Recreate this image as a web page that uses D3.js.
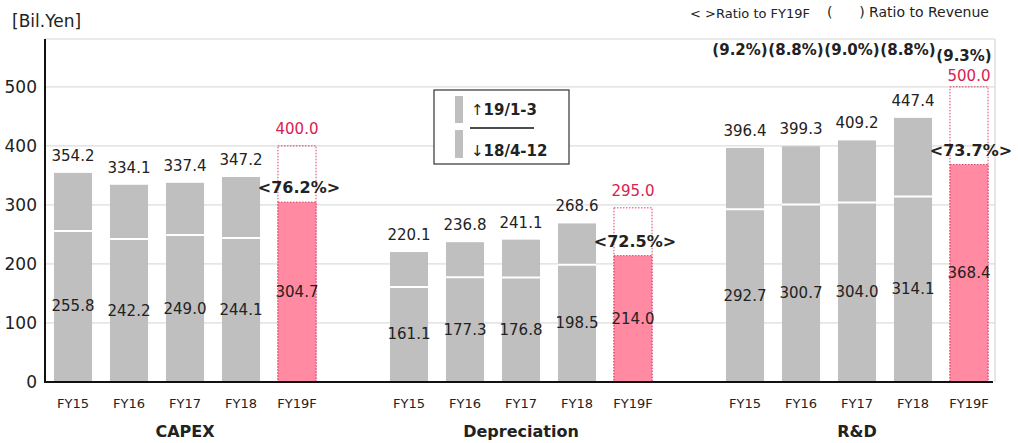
<!DOCTYPE html>
<html>
<head>
<meta charset="utf-8">
<script src="https://cdn.jsdelivr.net/npm/d3@7"></script>
<style>
  body { margin: 0; background: #fff; }
  svg text { font-family: "DejaVu Sans", Verdana, sans-serif; fill: #222; }
</style>
</head>
<body>
<div id="chart"></div>
<script>
// data
var groups = ["CAPEX", "Depreciation", "R&D"];
var years = ["FY15", "FY16", "FY17", "FY18", "FY19F"];
// full-year results (FY19F = plan)
var capexTotal = [354.2, 334.1, 337.4, 347.2, 400.0];
var deprTotal  = [220.1, 236.8, 241.1, 268.6, 295.0];
var rdTotal    = [396.4, 399.3, 409.2, 447.4, 500.0];
// Apr-Dec cumulative
var capexAprDec = [255.8, 242.2, 249.0, 244.1, 304.7];
var deprAprDec  = [161.1, 177.3, 176.8, 198.5, 214.0];
var rdAprDec    = [292.7, 300.7, 304.0, 314.1, 368.4];
var progressToPlan = ["<76.2%>", "<72.5%>", "<73.7%>"];
var rdRatioToRevenue = ["(9.2%)", "(8.8%)", "(9.0%)", "(8.8%)", "(9.3%)"];
var yTicks = [0, 100, 200, 300, 400, 500];

var totals = [capexTotal, deprTotal, rdTotal];
var aprDec = [capexAprDec, deprAprDec, rdAprDec];

// rows
var rows = [];
groups.forEach(function(g, gi) {
  years.forEach(function(y, yi) {
    rows.push({group: g, gi: gi, year: y, yi: yi, key: g + "|" + y,
               total: totals[gi][yi], lower: aprDec[gi][yi], forecast: yi === years.length - 1});
  });
});

// band domain with one empty slot between groups
var slots = [];
groups.forEach(function(g, gi) {
  if (gi > 0) slots.push("gap" + gi);
  years.forEach(function(y) { slots.push(g + "|" + y); });
});

var W = 1018, H = 443;
var margin = {top: 39, right: 21, bottom: 61, left: 45};

var pink = "#ff8aa1", pinkLine = "#d8406a", red = "#d9214f", gray = "#bfbfbf";

var svg = d3.select("#chart").append("svg").attr("width", W).attr("height", H);

var x = d3.scaleBand().domain(slots).range([margin.left, W - margin.right])
  .paddingInner(0.32).paddingOuter(0.16);
var y = d3.scaleLinear().domain([0, 581]).range([H - margin.bottom, margin.top]);

// grid + frame
svg.append("g").selectAll("line.grid")
  .data(yTicks.filter(function(d) { return d > 0; }))
  .enter().append("line")
    .attr("x1", margin.left).attr("x2", W - margin.right - 2)
    .attr("y1", function(d) { return y(d); }).attr("y2", function(d) { return y(d); })
    .attr("stroke", "#dcdcdc").attr("stroke-width", 1.2);

svg.append("line").attr("x1", margin.left).attr("x2", W - margin.right - 2)
  .attr("y1", margin.top).attr("y2", margin.top).attr("stroke", "#d6d6d6").attr("stroke-width", 1.2);
svg.append("line").attr("x1", W - margin.right - 2).attr("x2", W - margin.right - 2)
  .attr("y1", margin.top).attr("y2", y(0)).attr("stroke", "#d6d6d6").attr("stroke-width", 1.2);

// y axis
var yAxis = svg.append("g").attr("transform", "translate(" + margin.left + ",0)")
  .call(d3.axisLeft(y).tickValues(yTicks).tickSize(0).tickPadding(8));
yAxis.select(".domain").remove();
yAxis.selectAll("text").style("font-size", "17px").attr("fill", "#222")
  .style("font-family", "'DejaVu Sans', sans-serif");

svg.append("text").attr("x", 12).attr("y", 27).style("font-size", "17px").text("[Bil.Yen]");

// bars
var bw = x.bandwidth();
var bars = svg.append("g").selectAll("g.bar").data(rows).enter().append("g").attr("class", "bar");

// gray: lower + upper segments
bars.filter(function(d) { return !d.forecast; }).each(function(d) {
  var g = d3.select(this);
  g.append("rect").attr("x", x(d.key)).attr("width", bw)
    .attr("y", y(d.total)).attr("height", y(0) - y(d.total)).attr("fill", gray);
  g.append("line").attr("x1", x(d.key)).attr("x2", x(d.key) + bw)
    .attr("y1", y(d.lower)).attr("y2", y(d.lower)).attr("stroke", "#fff").attr("stroke-width", 2);
});

// forecast: dotted plan outline + pink actual
bars.filter(function(d) { return d.forecast; }).each(function(d) {
  var g = d3.select(this);
  g.append("rect").attr("x", x(d.key)).attr("width", bw)
    .attr("y", y(d.total)).attr("height", y(0) - y(d.total))
    .attr("fill", "none").attr("stroke", pinkLine).attr("stroke-width", 1).attr("stroke-dasharray", "1.5,1.5");
  g.append("rect").attr("x", x(d.key)).attr("width", bw)
    .attr("y", y(d.lower)).attr("height", y(0) - y(d.lower))
    .attr("fill", pink).attr("stroke", pinkLine).attr("stroke-width", 1).attr("stroke-dasharray", "1.5,1.5");
});

// total labels (kept below the ratio row)
bars.append("text")
  .attr("x", function(d) { return x(d.key) + bw / 2; })
  .attr("y", function(d) { return Math.max(y(d.total) - 12, 81); })
  .attr("text-anchor", "middle").style("font-size", "15px")
  .style("fill", function(d) { return d.forecast ? red : "#222"; })
  .text(function(d) { return d.total.toFixed(1); });

// Apr-Dec labels in middle of lower segment
bars.append("text")
  .attr("x", function(d) { return x(d.key) + bw / 2; })
  .attr("y", function(d) { return y(d.lower / 2) + 5; })
  .attr("text-anchor", "middle").style("font-size", "15px")
  .text(function(d) { return d.lower.toFixed(1); });

// progress vs plan
bars.filter(function(d) { return d.forecast; }).append("text")
  .attr("x", function(d) { return x(d.key) + bw / 2 + 2; })
  .attr("y", function(d) { return y(d.lower) - 9; })
  .attr("text-anchor", "middle").style("font-size", "16px").style("font-weight", "bold")
  .text(function(d) { return progressToPlan[d.gi]; });

// R&D ratio to revenue
svg.append("g").selectAll("text").data(rows.filter(function(d) { return d.group === "R&D"; }))
  .enter().append("text")
    .attr("x", function(d) { return x(d.key) + bw / 2 - 5; })
    .attr("y", function(d) { return d.forecast ? 61 : 55; })
    .attr("text-anchor", "middle").style("font-size", "15px").style("font-weight", "bold")
    .text(function(d) { return rdRatioToRevenue[d.yi]; });

// x axis
svg.append("line").attr("x1", margin.left - 1).attr("x2", W - margin.right - 4)
  .attr("y1", y(0)).attr("y2", y(0)).attr("stroke", "#111").attr("stroke-width", 2);
svg.append("line").attr("x1", margin.left).attr("x2", margin.left)
  .attr("y1", margin.top).attr("y2", y(0) + 1).attr("stroke", "#111").attr("stroke-width", 2);

svg.append("g").selectAll("text").data(rows).enter().append("text")
  .attr("x", function(d) { return x(d.key) + bw / 2; })
  .attr("y", y(0) + 26)
  .attr("text-anchor", "middle").style("font-size", "13px")
  .text(function(d) { return d.year; });

svg.append("g").selectAll("text").data(groups).enter().append("text")
  .attr("x", function(g) { return x(g + "|FY17") + bw / 2; })
  .attr("y", H - 6)
  .attr("text-anchor", "middle").style("font-size", "16px").style("font-weight", "bold")
  .text(function(g) { return g; });

// top legend
svg.append("text").attr("x", 690).attr("y", 18).style("font-size", "13px").text("< >Ratio to FY19F");
svg.append("text").attr("x", 827).attr("y", 17).style("font-size", "14px")
  .text("(\u00a0\u00a0\u00a0\u00a0\u00a0\u00a0) Ratio to Revenue");

// period legend box
var lg = svg.append("g").attr("transform", "translate(434,90)");
lg.append("rect").attr("width", 135).attr("height", 74).attr("fill", "#fff")
  .attr("stroke", "#333").attr("stroke-width", 1.2);
lg.append("rect").attr("x", 21).attr("y", 6).attr("width", 8).attr("height", 27).attr("fill", gray);
lg.append("rect").attr("x", 21).attr("y", 40).attr("width", 8).attr("height", 28).attr("fill", gray);
lg.append("line").attr("x1", 36).attr("x2", 100).attr("y1", 38).attr("y2", 38).attr("stroke", "#111").attr("stroke-width", 1.5);
var t1 = lg.append("text").attr("x", 37).attr("y", 25).style("font-size", "15px");
t1.append("tspan").text("\u2191");
t1.append("tspan").style("font-weight", "bold").text("19/1-3");
var t2 = lg.append("text").attr("x", 37).attr("y", 66).style("font-size", "15px");
t2.append("tspan").text("\u2193");
t2.append("tspan").style("font-weight", "bold").text("18/4-12");
</script>
</body>
</html>
